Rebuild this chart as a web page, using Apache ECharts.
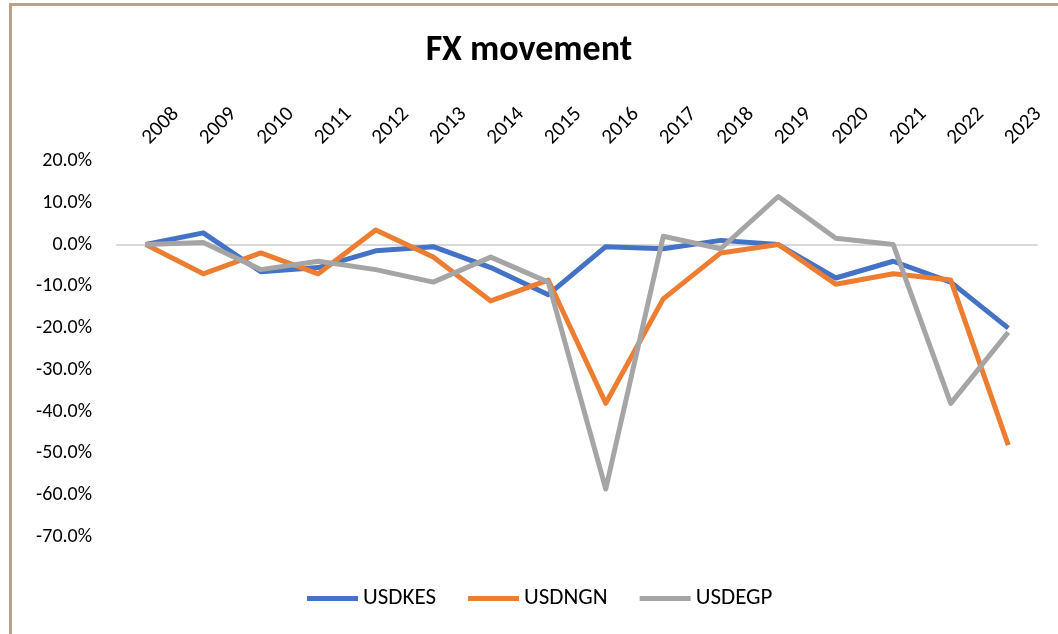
<!DOCTYPE html>
<html>
<head>
<meta charset="utf-8">
<title>FX movement</title>
<script src="https://cdn.jsdelivr.net/npm/echarts@6/dist/echarts.min.js"></script>
<style>
  html, body { margin: 0; padding: 0; background: #fff; }
  .frame {
    position: absolute; left: 9px; top: 3px; width: 1049px; height: 631px;
    border-left: 3px solid #b9a283; border-top: 3px solid #b9a283;
    box-sizing: border-box; pointer-events: none;
  }
  #chart { position: absolute; left: 0; top: 0; width: 1058px; height: 634px; }
</style>
</head>
<body>
<div id="chart"></div>
<div class="frame"></div>
<script>
// categories (years)
var years = ['2008', '2009', '2010', '2011', '2012', '2013', '2014', '2015',
  '2016', '2017', '2018', '2019', '2020', '2021', '2022', '2023']

// yearly FX change, in %
var usdkes = [0, 2.8, -6.5, -5.5, -1.5, -0.5, -5.5, -12, -0.5, -1, 1, 0, -8, -4, -9, -20]
var usdngn = [0, -7, -2, -7, 3.5, -3, -13.5, -8.5, -38, -13, -2, 0, -9.5, -7, -8.5, -48]
var usdegp = [0, 0.5, -6, -4, -6, -9, -3, -9, -58.5, 2, -1, 11.5, 1.5, 0, -38, -21]

// y axis ticks
var yMin = -70
var yMax = 20
var yStep = 10

var fontName = 'Carlito, Lato, "Noto Sans", sans-serif'

var chart = echarts.init(document.getElementById('chart'))

function lineSeries(name, data, color) {
  return {
    name: name,
    type: 'line',
    data: data,
    xAxisIndex: 0,
    symbol: 'none',
    lineStyle: { width: 5, color: color, join: 'round' },
    itemStyle: { color: color }
  }
}

var option = {
  animation: false,
  textStyle: { fontFamily: fontName },
  title: {
    text: 'FX movement',
    left: 'center',
    top: 28,
    textStyle: { fontSize: 36, fontWeight: 'bold', color: '#000', fontFamily: fontName }
  },
  legend: {
    bottom: 19,
    left: 302,
    itemWidth: 51,
    itemHeight: 5,
    itemGap: 32,
    icon: 'rect',
    textStyle: { fontSize: 23, color: '#000' },
    data: ['USDKES', 'USDNGN', 'USDEGP']
  },
  grid: {
    left: 117,
    right: 21,
    top: 161,
    bottom: 97,
    containLabel: false
  },
  xAxis: [
    {
      // labels at the top, tilted
      type: 'category',
      position: 'top',
      data: years,
      boundaryGap: true,
      axisLine: { show: false, onZero: false },
      axisTick: { show: false },
      axisLabel: { rotate: -45, fontSize: 21, color: '#000', margin: 20 }
    },
    {
      // only the line through zero
      type: 'category',
      position: 'bottom',
      data: years,
      boundaryGap: true,
      axisLine: { show: true, onZero: true, lineStyle: { color: '#d9d9d9', width: 2 } },
      axisTick: { show: false },
      axisLabel: { show: false }
    }
  ],
  yAxis: {
    type: 'value',
    min: yMin,
    max: yMax,
    interval: yStep,
    axisLine: { show: false },
    axisTick: { show: false },
    splitLine: { show: false },
    axisLabel: {
      fontSize: 20,
      color: '#000',
      margin: 25,
      formatter: function(v) { return v.toFixed(1) + '%' }
    }
  },
  series: [
    lineSeries('USDKES', usdkes, '#4472c4'),
    lineSeries('USDNGN', usdngn, '#ed7d31'),
    lineSeries('USDEGP', usdegp, '#a5a5a5')
  ]
}

chart.setOption(option)
</script>
</body>
</html>
